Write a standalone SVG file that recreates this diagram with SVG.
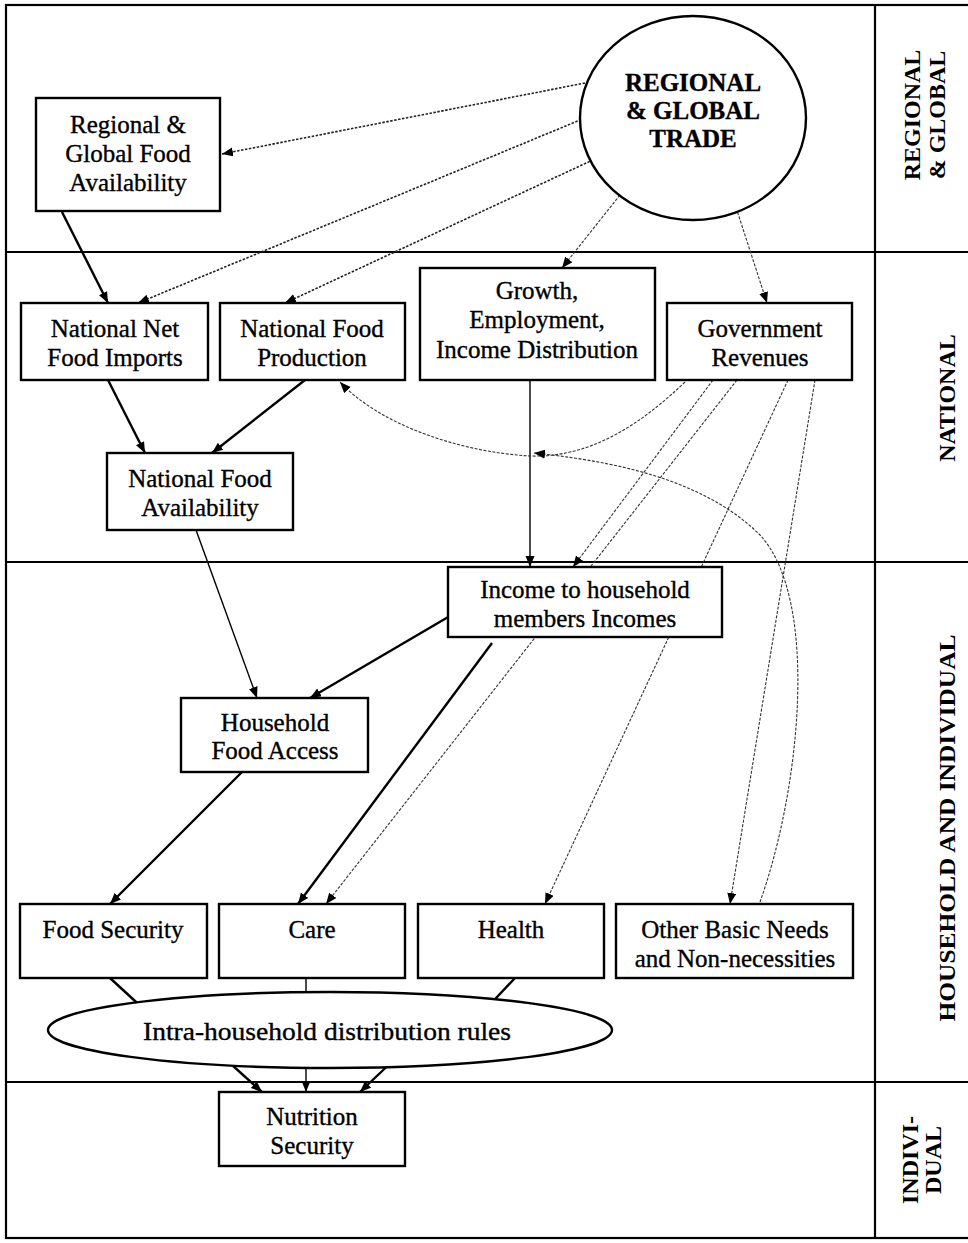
<svg xmlns="http://www.w3.org/2000/svg" width="968" height="1243" viewBox="0 0 968 1243">
<defs>
<marker id="ah" markerUnits="userSpaceOnUse" markerWidth="12" markerHeight="10" refX="11" refY="4.5" orient="auto"><path d="M0,0 L11,4.5 L0,9 z" fill="#000"/></marker>
<style>
.box{fill:#fff;stroke:#000;stroke-width:2.4}
.t{font-family:"Liberation Serif","Times New Roman",serif;font-size:25px;fill:#000;stroke:#000;stroke-width:0.35;text-anchor:middle}
.b{font-weight:bold}
.side{font-family:"Liberation Serif","Times New Roman",serif;font-size:24px;font-weight:bold;fill:#000;text-anchor:middle}
.frame{fill:none;stroke:#000;stroke-width:2.2}
.s{fill:none;stroke:#000;stroke-width:2.4}
.sl{fill:none;stroke:#000;stroke-width:1.4}
.d{fill:none;stroke:#222;stroke-width:1.6;stroke-dasharray:2.5 1.5}
.dl{fill:none;stroke:#333;stroke-width:1.1;stroke-dasharray:3 1.5}
</style>
</defs>
<rect width="968" height="1243" fill="#fff"/>
<g id="frame">
<rect class="frame" x="6" y="5" width="970" height="1233"/>
<line class="frame" x1="875" y1="5" x2="875" y2="1238"/>
<line class="frame" x1="6" y1="252" x2="968" y2="252"/>
<line class="frame" x1="6" y1="562" x2="968" y2="562"/>
<line class="frame" x1="6" y1="1082" x2="968" y2="1082"/>
<text class="side" transform="translate(920,115) rotate(-90)">REGIONAL</text>
<text class="side" transform="translate(945,115) rotate(-90)">&amp; GLOBAL</text>
<text class="side" transform="translate(955,398) rotate(-90)">NATIONAL</text>
<text class="side" transform="translate(955,828) rotate(-90)" textLength="387" lengthAdjust="spacingAndGlyphs">HOUSEHOLD AND INDIVIDUAL</text>
<text class="side" transform="translate(918,1160) rotate(-90)">INDIVI-</text>
<text class="side" transform="translate(941,1160) rotate(-90)">DUAL</text>
</g>
<g id="connectors">
<line class="d" x1="585" y1="83" x2="222" y2="154" marker-end="url(#ah)"/>
<line class="d" x1="585" y1="118" x2="138" y2="303" marker-end="url(#ah)"/>
<line class="d" x1="597" y1="158" x2="285" y2="303" marker-end="url(#ah)"/>
<line class="dl" x1="620" y1="195" x2="562" y2="268" marker-end="url(#ah)"/>
<line class="dl" x1="732" y1="195" x2="767" y2="303" marker-end="url(#ah)"/>
<line class="s" x1="62" y1="212" x2="108" y2="303" marker-end="url(#ah)"/>
<line class="s" x1="108" y1="380" x2="145" y2="453" marker-end="url(#ah)"/>
<line class="s" x1="305" y1="380" x2="212" y2="453" marker-end="url(#ah)"/>
<line class="sl" x1="530" y1="380" x2="530" y2="567" marker-end="url(#ah)"/>
<line class="sl" x1="196" y1="530" x2="257" y2="698" marker-end="url(#ah)"/>
<line class="s" x1="455" y1="613" x2="310" y2="698" marker-end="url(#ah)"/>
<line class="s" x1="242" y1="772" x2="110" y2="904" marker-end="url(#ah)"/>
<line class="s" x1="492" y1="643" x2="298" y2="904" marker-end="url(#ah)"/>
<path class="dl" d="M685,382 C640,425 590,458 530,456 C460,452 380,425 340,382" marker-end="url(#ah)"/>
<line class="dl" x1="713" y1="380" x2="573" y2="567" marker-end="url(#ah)"/>
<line class="dl" x1="737" y1="380" x2="326" y2="904" marker-end="url(#ah)"/>
<line class="dl" x1="788" y1="380" x2="545" y2="904" marker-end="url(#ah)"/>
<line class="dl" x1="815" y1="380" x2="730" y2="904" marker-end="url(#ah)"/>
<path class="dl" d="M760,902 C800,790 820,600 760,535 C700,475 600,460 534,453" marker-end="url(#ah)"/>
<line class="s" x1="110" y1="978" x2="148" y2="1013"/>
<line class="sl" x1="306" y1="978" x2="306" y2="992"/>
<line class="s" x1="515" y1="978" x2="482" y2="1013"/>
<line class="s" x1="222" y1="1056" x2="262" y2="1092" marker-end="url(#ah)"/>
<line class="sl" x1="306" y1="1068" x2="306" y2="1092" marker-end="url(#ah)"/>
<line class="s" x1="398" y1="1056" x2="360" y2="1092" marker-end="url(#ah)"/>
</g>
<g id="trade">
<ellipse class="box" cx="693" cy="118" rx="113" ry="102"/>
<text class="t b" x="693" y="91" font-size="23">REGIONAL</text>
<text class="t b" x="693" y="119" font-size="23">&amp; GLOBAL</text>
<text class="t b" x="693" y="147" font-size="23">TRADE</text>
</g>
<g id="rgfa">
<rect class="box" x="36" y="98" width="184" height="113"/>
<text class="t" x="128" y="133">Regional &amp;</text>
<text class="t" x="128" y="162">Global Food</text>
<text class="t" x="128" y="191">Availability</text>
</g>
<g id="nnfi">
<rect class="box" x="21" y="303" width="187" height="77"/>
<text class="t" x="115" y="337">National Net</text>
<text class="t" x="115" y="366">Food Imports</text>
</g>
<g id="nfp">
<rect class="box" x="220" y="303" width="185" height="77"/>
<text class="t" x="312" y="337">National Food</text>
<text class="t" x="312" y="366">Production</text>
</g>
<g id="growth">
<rect class="box" x="420" y="268" width="235" height="112"/>
<text class="t" x="537" y="299">Growth,</text>
<text class="t" x="537" y="328">Employment,</text>
<text class="t" x="537" y="358">Income Distribution</text>
</g>
<g id="govrev">
<rect class="box" x="667" y="303" width="185" height="77"/>
<text class="t" x="760" y="337">Government</text>
<text class="t" x="760" y="366">Revenues</text>
</g>
<g id="nfa">
<rect class="box" x="107" y="453" width="186" height="77"/>
<text class="t" x="200" y="487">National Food</text>
<text class="t" x="200" y="516">Availability</text>
</g>
<g id="income">
<rect class="box" x="448" y="567" width="274" height="70"/>
<text class="t" x="585" y="598">Income to household</text>
<text class="t" x="585" y="627">members Incomes</text>
</g>
<g id="hfa">
<rect class="box" x="181" y="698" width="187" height="74"/>
<text class="t" x="275" y="731">Household</text>
<text class="t" x="275" y="759">Food Access</text>
</g>
<g id="foodsec">
<rect class="box" x="20" y="904" width="187" height="74"/>
<text class="t" x="113" y="938">Food Security</text>
</g>
<g id="care">
<rect class="box" x="219" y="904" width="186" height="74"/>
<text class="t" x="312" y="938">Care</text>
</g>
<g id="health">
<rect class="box" x="418" y="904" width="186" height="74"/>
<text class="t" x="511" y="938">Health</text>
</g>
<g id="other">
<rect class="box" x="616" y="904" width="237" height="74"/>
<text class="t" x="735" y="938">Other Basic Needs</text>
<text class="t" x="735" y="967">and Non-necessities</text>
</g>
<g id="intra">
<ellipse class="box" cx="330" cy="1030" rx="282" ry="38"/>
<text class="t" x="327" y="1040" textLength="368" lengthAdjust="spacingAndGlyphs">Intra-household distribution rules</text>
</g>
<g id="nutrition">
<rect class="box" x="219" y="1092" width="186" height="74"/>
<text class="t" x="312" y="1125">Nutrition</text>
<text class="t" x="312" y="1154">Security</text>
</g>
</svg>
